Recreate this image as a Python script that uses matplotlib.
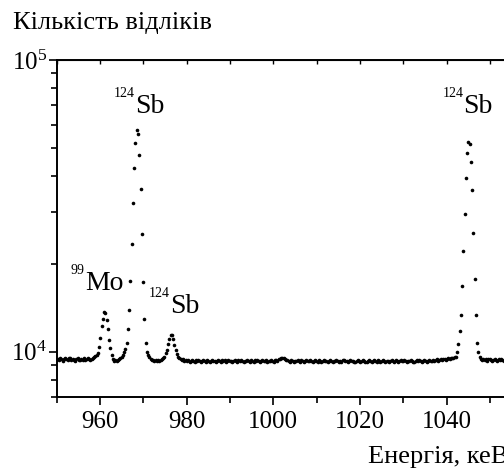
import matplotlib
matplotlib.use('Agg')
import matplotlib.pyplot as plt
from matplotlib.transforms import offset_copy
import numpy as np

# Energy calibration of the spectrum (keV per channel)
e_start = 949.92
e_step = 0.2899

# Counts per channel
counts_950_959 = [
    9350, 9440, 9380, 9480, 9400, 9300, 9460, 9520, 9410, 9350,
    9470, 9500, 9380, 9430, 9330, 9260, 9410, 9480, 9370, 9320,
    9440, 9380, 9470, 9340, 9410, 9490, 9430, 9370, 9460, 9520,
    9540, 9620, 9720]
counts_960_978 = [
    9850, 10350, 11150, 12200, 12950, 13700, 13550, 12800, 11900, 10950,
    10250, 9750, 9450, 9300, 9350, 9280, 9350, 9400, 9500, 9600,
    9750, 9950, 10200, 10700, 11900, 13900, 17400, 23300, 32200, 42700,
    51900, 57500, 55600, 47300, 36100, 25300, 17300, 12900, 10700, 9980,
    9700, 9550, 9450, 9380, 9350, 9280, 9320, 9260, 9350, 9300,
    9380, 9400, 9480, 9600, 9850, 10150, 10600, 11000, 11350, 11400,
    11000, 10550, 10100, 9800, 9600, 9500]
counts_979_1042 = [
    9450, 9380, 9440, 9300, 9370, 9260, 9340, 9230, 9300, 9380,
    9260, 9200, 9320, 9250, 9360, 9290, 9210, 9300, 9370, 9270,
    9230, 9340, 9260, 9190, 9290, 9360, 9250, 9310, 9210, 9280,
    9370, 9290, 9220, 9320, 9260, 9350, 9200, 9280, 9340, 9250,
    9310, 9220, 9290, 9370, 9260, 9210, 9320, 9250, 9360, 9280,
    9200, 9310, 9250, 9350, 9290, 9220, 9320, 9270, 9230, 9340,
    9260, 9360, 9300, 9210, 9280, 9370, 9290, 9250, 9320, 9220,
    9300, 9260, 9350, 9290, 9240, 9330, 9370, 9300, 9390, 9430,
    9480, 9530, 9500, 9440, 9370, 9320, 9290, 9240, 9330, 9270,
    9220, 9310, 9260, 9350, 9290, 9230, 9320, 9270, 9210, 9290,
    9360, 9300, 9250, 9340, 9270, 9220, 9310, 9370, 9290, 9230,
    9320, 9260, 9210, 9290, 9360, 9300, 9250, 9200, 9280, 9340,
    9260, 9220, 9310, 9250, 9350, 9270, 9210, 9290, 9240, 9320,
    9370, 9290, 9250, 9200, 9280, 9340, 9260, 9300, 9220, 9180,
    9250, 9320, 9280, 9210, 9290, 9360, 9300, 9240, 9190, 9280,
    9340, 9260, 9230, 9310, 9370, 9290, 9240, 9320, 9260, 9210,
    9290, 9350, 9270, 9230, 9310, 9250, 9200, 9290, 9360, 9300,
    9240, 9320, 9260, 9210, 9290, 9340, 9250, 9310, 9370, 9280,
    9230, 9310, 9260, 9350, 9290, 9240, 9190, 9280, 9340, 9260,
    9320, 9250, 9210, 9290, 9360, 9300, 9240, 9280, 9340, 9260,
    9300, 9360, 9280, 9340, 9390, 9310, 9370, 9420, 9340, 9410,
    9450, 9370, 9440, 9490, 9410, 9480, 9530, 9480, 9560]
counts_1042_1048 = [
    9600, 10000, 10600, 11800, 13300, 16800, 22100, 29700, 39300, 47900,
    52500, 51700, 44700, 35800, 25500, 17800, 13300, 10700, 9950, 9600]
counts_1048_1053 = [
    9450, 9370, 9440, 9340, 9410, 9310, 9390, 9440, 9350, 9290,
    9380, 9430, 9340, 9280, 9390, 9330, 9420, 9360, 9300, 9390]

# Peak labels: isotope mass number, element, label anchor (keV, counts)
label_mass = ['124', '124', '99', '124']
label_elem = ['Sb', 'Sb', 'Mo', 'Sb']
label_e = [968.1, 1043.9, 956.5, 976.2]
label_c = [65700, 65700, 16300, 13600]

plt.rcParams['font.family'] = ['Liberation Serif', 'DejaVu Serif']
plt.rcParams['mathtext.fontset'] = 'custom'
plt.rcParams['mathtext.rm'] = 'Liberation Serif'
plt.rcParams['mathtext.it'] = 'Liberation Serif:italic'


def main():
    counts = np.array(counts_950_959 + counts_960_978 + counts_979_1042
                      + counts_1042_1048 + counts_1048_1053)
    energy = e_start + e_step * np.arange(len(counts))

    fig = plt.figure(figsize=(5.04, 4.68), dpi=100)
    # axes run past the right edge of the figure, as in the original
    ax = fig.add_axes([0.1125, 0.1524, 0.9457, 0.7194])
    ax.plot(energy, counts, 'o', ms=2.6, mew=0, color='black')

    ax.set_yscale('log')
    ax.set_xlim(950, 1060)
    ax.set_ylim(7000, 1e5)

    ax.set_xticks(np.arange(960, 1060, 20))
    ax.set_xticks(np.arange(950, 1061, 10), minor=True)
    ax.tick_params(axis='both', which='major', labelsize=18, direction='out',
                   length=6, width=1.2, pad=4)
    ax.tick_params(axis='y', which='major', pad=1)
    ax.tick_params(axis='both', which='minor', direction='out',
                   length=4, width=1.2)
    for sp in ax.spines.values():
        sp.set_linewidth(1.4)

    # small inward ticks on the top spine
    top = ax.secondary_xaxis('top')
    top.set_xticks(np.arange(950, 1061, 10))
    top.tick_params(direction='in', length=3, width=1.0, labeltop=False)

    # peak labels with small superscript mass numbers
    for m, el, e, c in zip(label_mass, label_elem, label_e, label_c):
        ax.text(e, c, el, fontsize=20, ha='left', va='baseline')
        tr = offset_copy(ax.transData, fig=fig, x=0, y=11.5, units='points')
        ax.text(e, c, m, fontsize=10, ha='right', va='baseline', transform=tr)

    fig.text(0.0252, 0.9374, 'Кількість відліків', fontsize=19,
             ha='left', va='baseline')
    fig.text(0.730, 0.0107, 'Енергія, кеВ', fontsize=19,
             ha='left', va='baseline')

    fig.savefig('out.png', dpi=100)


if __name__ == '__main__':
    main()
